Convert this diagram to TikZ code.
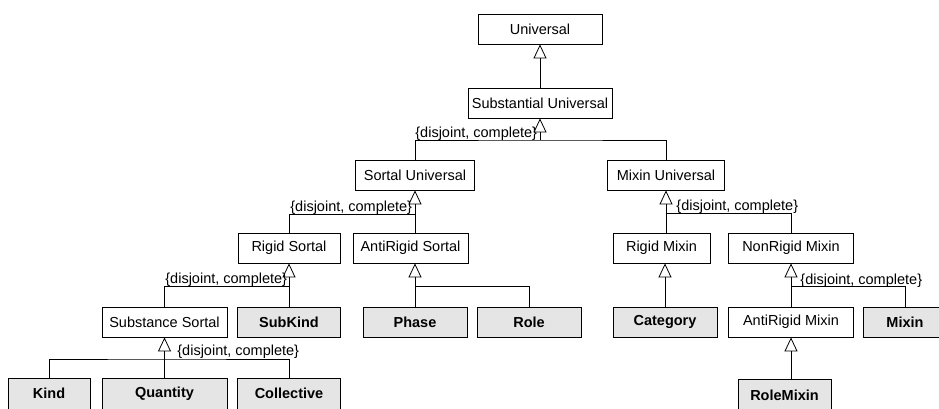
\documentclass[tikz,border=0pt]{standalone}
\usepackage{fontspec}
\setmainfont{Liberation Sans}
\usetikzlibrary{arrows.meta}

\begin{document}
\begin{tikzpicture}[x=1pt,y=-1pt,line width=0.8pt,
   every node/.style={font=\fontsize{14.5}{17}\selectfont},
   cls/.style={draw,minimum height=30pt,inner sep=0pt},
   leaf/.style={cls,fill=black!10,font=\fontsize{14.5}{17}\selectfont\bfseries},
   gen/.style={-{Triangle[open,length=14pt,width=13pt]}},
   note/.style={anchor=base west,inner sep=0pt}]
   \useasboundingbox (0,0) rectangle (939,408);

   \node[cls,minimum width=124pt] (univ)      at (540,29)    {Universal};
   \node[cls,minimum width=144pt] (subst)     at (540,103)   {Substantial Universal};
   \node[cls,minimum width=119pt] (sortal)    at (415,175)   {Sortal Universal};
   \node[cls,minimum width=117pt] (mixinu)    at (666,175)   {Mixin Universal};
   \node[cls,minimum width=102pt] (rigids)    at (289,248)   {Rigid Sortal};
   \node[cls,minimum width=115pt] (antis)     at (410.5,248) {AntiRigid Sortal};
   \node[cls,minimum width=97pt]  (rigidm)    at (661.5,248) {Rigid Mixin};
   \node[cls,minimum width=125pt] (nonrigidm) at (791,248)   {NonRigid Mixin};
   \node[cls,minimum width=125pt] (subsort)   at (164.5,322) {Substance Sortal};
   \node[leaf,minimum width=103pt] (subkind)  at (289,322)   {SubKind};
   \node[leaf,minimum width=104pt] (phase)    at (415,322)   {Phase};
   \node[leaf,minimum width=104pt] (role)     at (529,322)   {Role};
   \node[leaf,minimum width=104pt] (category) at (665,322)   {Category};
   \node[cls,minimum width=125pt] (antim)     at (791,322)   {AntiRigid Mixin};
   \node[leaf,minimum width=84pt]  (mixin)    at (905,322)   {Mixin};
   \node[leaf,minimum width=82pt,minimum height=31pt]  (kind)       at (49,393.5)    {Kind};
   \node[leaf,minimum width=125pt,minimum height=31pt] (quantity)   at (164.5,393.5) {Quantity};
   \node[leaf,minimum width=103pt,minimum height=31pt] (collective) at (289,393.5)   {Collective};
   \node[leaf,minimum width=93pt,minimum height=31pt]  (rolemixin)  at (784.5,395)   {RoleMixin};

   \coordinate (j1) at (540,140);
   \coordinate (j2) at (415,214);
   \coordinate (j3) at (289,286);
   \coordinate (j4) at (415,286);
   \coordinate (j5) at (164.5,359);
   \coordinate (j6) at (666,213);
   \coordinate (j7) at (791,286);

   \draw[gen] (subst.north) -- (univ.south);

   \draw[gen] (j1) -- (subst.south);
   \draw (sortal.north) |- (j1) -| (mixinu.north);

   \draw[gen] (j2) -- (sortal.south);
   \draw (rigids.north) |- (j2) -- (sortal.south |- antis.north);

   \draw[gen] (subkind.north) -- (rigids.south);
   \draw (subsort.north) |- (j3);

   \draw[gen] (phase.north) -- (phase.north |- antis.south);
   \draw (j4) -| (role.north);

   \draw[gen] (quantity.north) -- (subsort.south);
   \draw (kind.north) |- (j5) -| (collective.north);

   \draw[gen] (mixinu.south |- rigidm.north) -- (mixinu.south);
   \draw (j6) -| (nonrigidm.north);

   \draw[gen] (category.north) -- (category.north |- rigidm.south);

   \draw[gen] (antim.north) -- (nonrigidm.south);
   \draw (j7) -| (mixin.north);

   \draw[gen] (rolemixin.north -| antim.south) -- (antim.south);

   \node[note] (dc1) at (415,137) {\{disjoint, complete\}};
   \node[note] (dc2) at (290,211) {\{disjoint, complete\}};
   \node[note] (dc3) at (165,283) {\{disjoint, complete\}};
   \node[note] (dc4) at (177,355) {\{disjoint, complete\}};
   \node[note] (dc5) at (676,210) {\{disjoint, complete\}};
   \node[note] (dc6) at (800,284) {\{disjoint, complete\}};
\end{tikzpicture}
\end{document}
